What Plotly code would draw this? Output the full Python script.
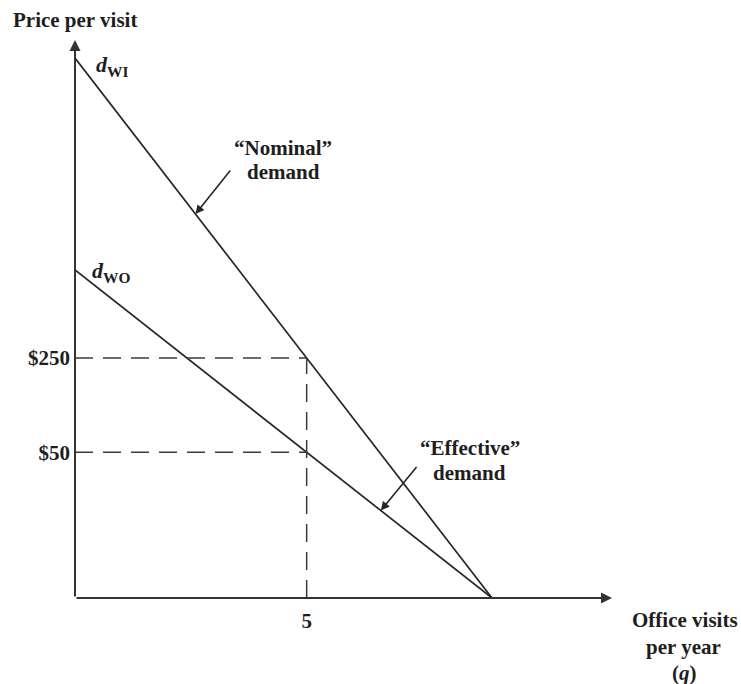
import plotly.graph_objects as go

# Schematic demand for physician office visits (price axis is illustrative)
q_choke = 9                    # visits per year where both demand curves reach zero
nominal_intercept = 540        # d_WI price intercept (diagram units)
effective_intercept = 328      # d_WO price intercept (diagram units)
q_marked = 5                   # marked quantity on the q axis
price_labels = ["$250", "$50"]
q_tick_labels = ["5"]

W, H = 741, 684
L, R, T, B = 75, 129, 40, 86
x_max = (W - L - R) / ((492 - 75) / q_choke)
y_max = H - T - B

INK = "#262626"
TEXT = "#1e1e1e"
FONT = "Liberation Serif"
FS = 21


def nominal(q):
    return nominal_intercept * (1 - q / q_choke)


def effective(q):
    return effective_intercept * (1 - q / q_choke)


p_nominal = nominal(q_marked)
p_effective = effective(q_marked)

fig = go.Figure()

fig.add_trace(go.Scatter(x=[0, q_choke], y=[nominal(0), nominal(q_choke)],
                         mode="lines", line=dict(color=INK, width=1.7),
                         hoverinfo="skip", showlegend=False))
fig.add_trace(go.Scatter(x=[0, q_choke], y=[effective(0), effective(q_choke)],
                         mode="lines", line=dict(color=INK, width=1.7),
                         hoverinfo="skip", showlegend=False))

dash = dict(color="#3a3a3a", width=1.5, dash="18px,10px")
fig.add_trace(go.Scatter(x=[0, q_marked], y=[p_nominal, p_nominal], mode="lines",
                         line=dash, hoverinfo="skip", showlegend=False))
fig.add_trace(go.Scatter(x=[0, q_marked], y=[p_effective, p_effective], mode="lines",
                         line=dash, hoverinfo="skip", showlegend=False))
fig.add_trace(go.Scatter(x=[q_marked, q_marked], y=[0, p_nominal], mode="lines",
                         line=dash, hoverinfo="skip", showlegend=False))

ann = []
# axes drawn as arrows from the origin
for (x1, y1) in [(x_max, 0), (0, y_max)]:
    ann.append(dict(x=x1, y=y1, ax=0, ay=0, xref="x", yref="y", axref="x", ayref="y",
                    text="", showarrow=True, arrowhead=2, arrowsize=1.1,
                    arrowwidth=2, arrowcolor="#333333"))

# pointers to the curves
ann.append(dict(x=2.6, y=nominal(2.6), ax=36, ay=-45, xref="x", yref="y",
                text="", showarrow=True, arrowhead=2, arrowsize=1.1,
                arrowwidth=1.6, arrowcolor=INK))
ann.append(dict(x=6.6, y=effective(6.6), ax=37, ay=-45, xref="x", yref="y",
                text="", showarrow=True, arrowhead=2, arrowsize=1.1,
                arrowwidth=1.6, arrowcolor=INK))


def px(x, y):
    return (x - L) / (W - L - R), (H - B - y) / (H - T - B)


def label(x, y, text, size=FS, xanchor="center"):
    xp, yp = px(x, y)
    ann.append(dict(x=xp, y=yp, xref="paper", yref="paper", text=text,
                    showarrow=False, xanchor=xanchor, yanchor="middle",
                    font=dict(family=FONT, size=size, color=TEXT)))


label(11, 20, "<b>Price per visit</b>", xanchor="left")
label(283, 148, "<b>\u201cNominal\u201d</b>")
label(283, 172, "<b>demand</b>")
label(470, 448, "<b>\u201cEffective\u201d</b>")
label(470, 473, "<b>demand</b>")
label(94, 66, "<b><i>d</i><sub>WI</sub></b>", size=22, xanchor="left")
label(90, 272, "<b><i>d</i><sub>WO</sub></b>", size=22, xanchor="left")
label(685, 620, "<b>Office visits</b>")
label(683, 647, "<b>per year</b>")
label(684, 673, "<b>(<i>q</i>)</b>")

fig.update_layout(
    width=W, height=H,
    margin=dict(l=L, r=R, t=T, b=B),
    plot_bgcolor="white", paper_bgcolor="white",
    annotations=ann,
    xaxis=dict(range=[0, x_max], showgrid=False, zeroline=False, showline=False,
               tickvals=[q_marked], ticktext=[f"<b>{t}</b>" for t in q_tick_labels],
               ticks="", ticklabelstandoff=8,
               tickfont=dict(family=FONT, size=FS, color=TEXT)),
    yaxis=dict(range=[0, y_max], showgrid=False, zeroline=False, showline=False,
               tickvals=[p_nominal, p_effective],
               ticktext=[f"<b>{t}</b>" for t in price_labels],
               ticks="", ticklabelstandoff=4,
               tickfont=dict(family=FONT, size=FS, color=TEXT)),
)

fig.write_html("out.html")
